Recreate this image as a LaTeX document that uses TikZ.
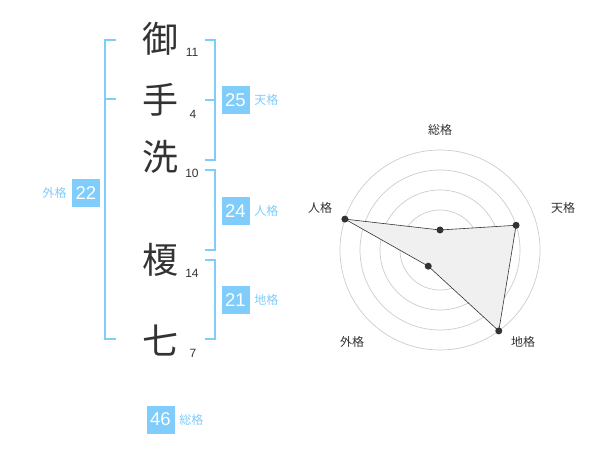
\documentclass[tikz,border=0pt]{standalone}
\usepackage{fontspec}
\setmainfont{Liberation Sans}
\newfontfamily\jpfont{Noto Sans CJK JP}
\usetikzlibrary{positioning}
\definecolor{skyblue}{RGB}{128,204,250}
\definecolor{inkgray}{RGB}{51,51,51}

\begin{document}
\begin{tikzpicture}[x=1pt,y=-1pt]
	\tikzset{kanji/.style={font=\jpfont\fontsize{36}{36}\selectfont,text=inkgray,inner sep=0pt},
		strokes/.style={font=\fontsize{12}{12}\selectfont,text=inkgray,inner sep=0pt},
		score box/.style={fill=skyblue,text=white,minimum size=28pt,inner sep=0pt,font=\fontsize{18.5}{18.5}\selectfont},
		score label/.style={font=\jpfont\fontsize{12}{12}\selectfont,text=skyblue,inner sep=0pt},
		bracket/.style={draw=skyblue,line width=1.8pt},
		ring/.style={draw=black!20,line width=0.7pt},
		axis label/.style={font=\jpfont\fontsize{12}{12}\selectfont,text=inkgray,inner sep=0pt},
		dot/.style={circle,fill=inkgray,inner sep=0pt,minimum size=7pt}}
	\useasboundingbox (0,0) rectangle (600,470);
	
	% name
	\node[kanji] (k1) at (160,39) {御};
	\node[kanji] (k2) at (160,100) {手};
	\node[kanji] (k3) at (160,157) {洗};
	\node[kanji] (k4) at (160,260) {榎};
	\node[kanji] (k5) at (160,340) {七};
	\node[strokes] (s1) at (192,52) {11};
	\node[strokes] (s2) at (193,114) {4};
	\node[strokes] (s3) at (192,173) {10};
	\node[strokes] (s4) at (192,273) {14};
	\node[strokes] (s5) at (193,353) {7};
	
	% brackets
	\draw[bracket] (205,40) -- (215,40) -- (215,160) -- (205,160) (215,100) -- (205,100);
	\draw[bracket] (205,170) -- (215,170) -- (215,250) -- (205,250);
	\draw[bracket] (205,260) -- (215,260) -- (215,339) -- (205,339);
	\draw[bracket] (116,40) -- (105,40) -- (105,339) -- (116,339) (105,99) -- (116,99);
	
	% scores
	\node[score box] (ten) at (235.5,100) {25};
	\node[score label,right=4.5pt of ten] {天格};
	\node[score box] (jin) at (235.5,211) {24};
	\node[score label,right=4.5pt of jin] {人格};
	\node[score box] (chi) at (235.5,300) {21};
	\node[score label,right=4.5pt of chi] {地格};
	\node[score box] (gai) at (86,193) {22};
	\node[score label,left=5pt of gai] {外格};
	\node[score box] (sou) at (160.5,419.5) {46};
	\node[score label,right=4.5pt of sou] {総格};
	
	% radar
	\begin{scope}[shift={(440,250)},yscale=-1]
		\foreach \r in {20,40,...,100}
			\draw[ring] (0,0) circle (\r);
		\fill[black!20] (0,0) circle (3);
		\coordinate (p-sou) at (90:20);
		\coordinate (p-ten) at (18:80);
		\coordinate (p-chi) at (-54:100);
		\coordinate (p-gai) at (234:20);
		\coordinate (p-jin) at (162:100);
		\draw[fill=black!6,draw=inkgray,line width=0.6pt] (p-sou) -- (p-ten) -- (p-chi) -- (p-gai) -- (p-jin) -- cycle;
		\foreach \p in {sou,ten,chi,gai,jin}
			\node[dot] at (p-\p) {};
		\node[axis label] (l-sou) at (0,120) {総格};
		\node[axis label] (l-ten) at (123,42) {天格};
		\node[axis label] (l-jin) at (-120,42) {人格};
		\node[axis label] (l-gai) at (-88,-92) {外格};
		\node[axis label] (l-chi) at (83,-92) {地格};
	\end{scope}
\end{tikzpicture}
\end{document}
